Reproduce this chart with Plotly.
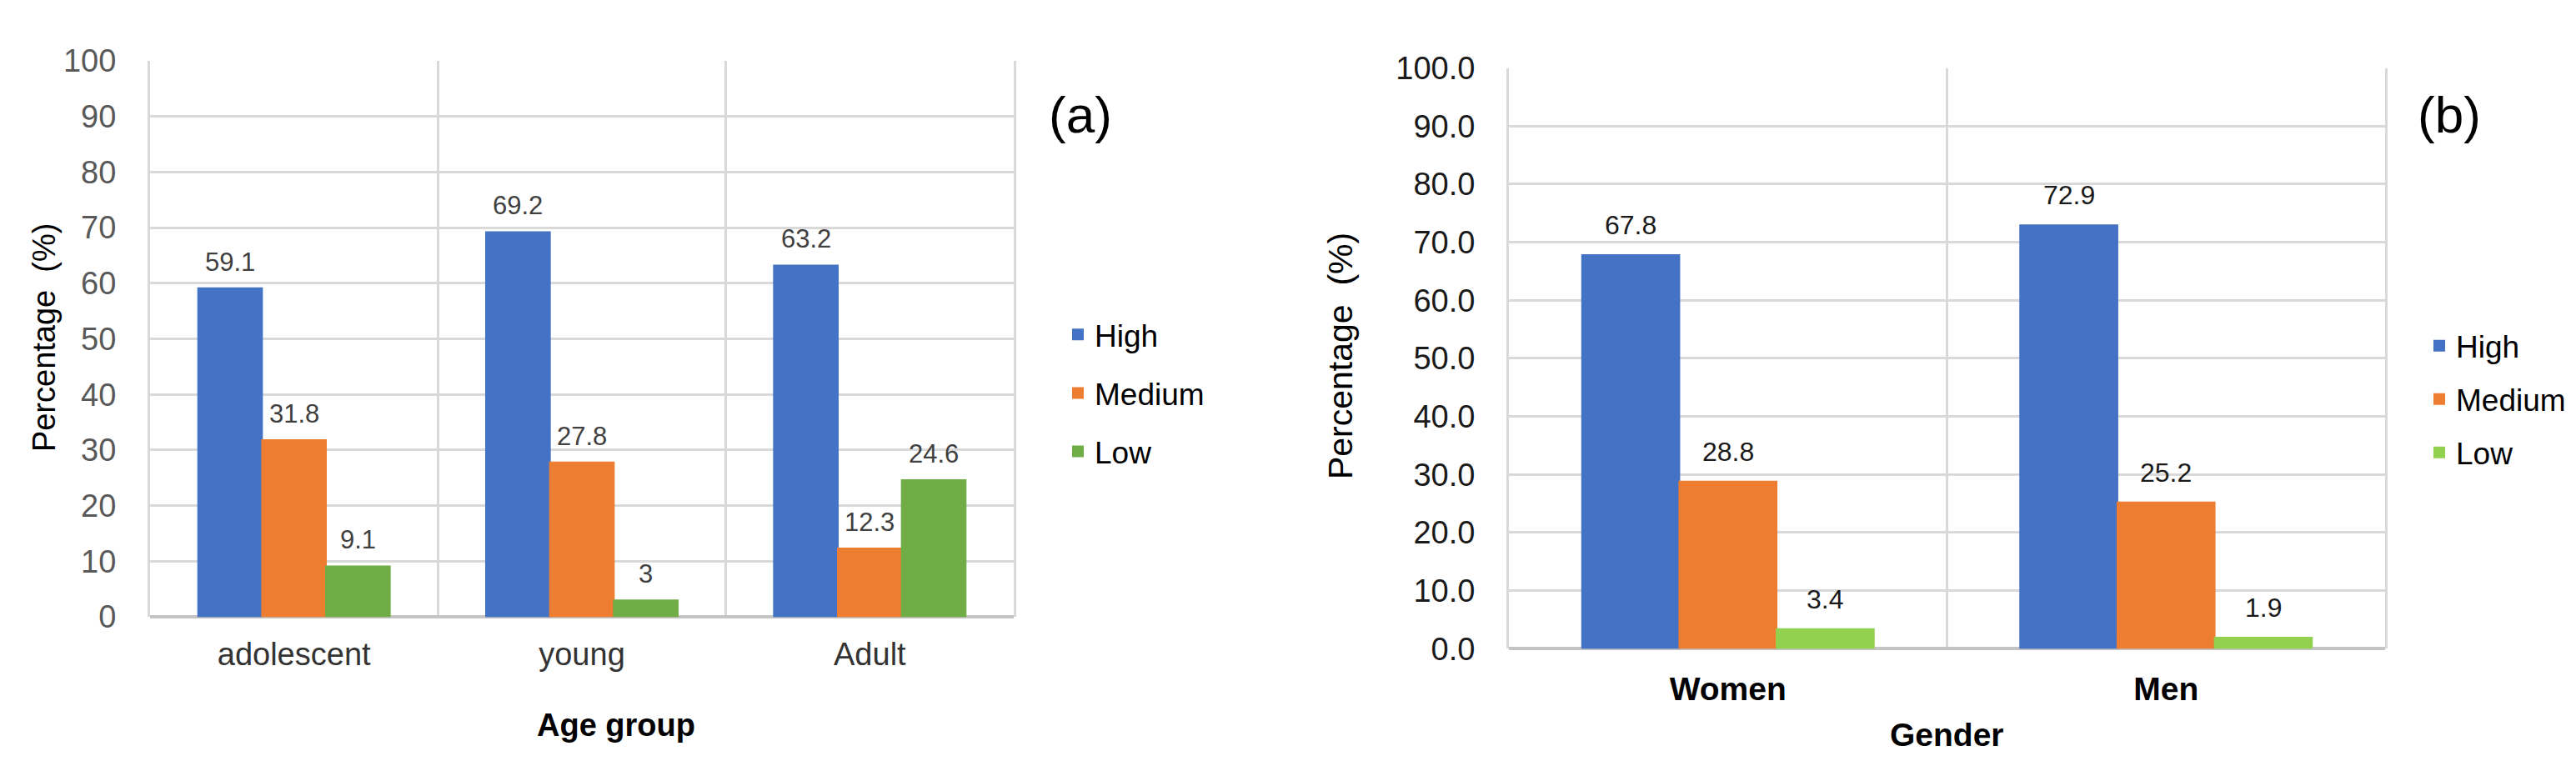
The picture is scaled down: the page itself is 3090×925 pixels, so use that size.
import plotly.graph_objects as go

# panel (a): age groups
age_groups = ['adolescent', 'young', 'Adult']
age_high = [59.1, 69.2, 63.2]
age_medium = [31.8, 27.8, 12.3]
age_low = [9.1, 3, 24.6]

# panel (b): gender
genders = ['Women', 'Men']
gen_high = [67.8, 72.9]
gen_medium = [28.8, 25.2]
gen_low = [3.4, 1.9]

levels = ['High', 'Medium', 'Low']
colors_a = ['#4472C4', '#ED7D31', '#70AD47']
colors_b = ['#4472C4', '#ED7D31', '#92D050']

W, H = 3090, 925
FONT = 'Liberation Sans, Arial, sans-serif'
BARGAP = 0.334


def px_x(p):
    return p / W


def px_y(p):
    return 1 - p / H


fig = go.Figure()

series_a = [age_high, age_medium, age_low]
series_b = [gen_high, gen_medium, gen_low]

for k, name in enumerate(levels):
    fig.add_trace(go.Bar(x=age_groups, y=series_a[k], name=name,
                         marker=dict(color=colors_a[k], line=dict(color=colors_a[k], width=2)),
                         xaxis='x', yaxis='y', legend='legend', legendgroup='a' + name))
for k, name in enumerate(levels):
    fig.add_trace(go.Bar(x=genders, y=series_b[k], name=name,
                         marker=dict(color=colors_b[k], line=dict(color=colors_b[k], width=2)),
                         xaxis='x2', yaxis='y2', legend='legend2', legendgroup='b' + name))

annotations = []
# value labels above bars
grp = (1 - BARGAP) / 3
for k in range(3):
    off = (k - 1) * grp
    for i, v in enumerate(series_a[k]):
        annotations.append(dict(x=i + off, y=v, xref='x', yref='y', text=f'{v:g}', showarrow=False,
                                xanchor='center', yanchor='bottom', yshift=12,
                                font=dict(size=31, color='#404040')))
    for i, v in enumerate(series_b[k]):
        annotations.append(dict(x=i + off, y=v, xref='x2', yref='y2', text=f'{v:.1f}', showarrow=False,
                                xanchor='center', yanchor='bottom', yshift=16,
                                font=dict(size=32, color='#1a1a1a')))

# panel tags and axis titles
annotations += [
    dict(x=px_x(1288), y=px_y(114), xref='paper', yref='paper', text='(a)', showarrow=False,
         xanchor='center', yanchor='middle', font=dict(size=62, color='#000000')),
    dict(x=px_x(2930), y=px_y(114), xref='paper', yref='paper', text='(b)', showarrow=False,
         xanchor='center', yanchor='middle', font=dict(size=62, color='#000000')),
    dict(x=px_x(45), y=px_y(394), xref='paper', yref='paper', text='Percentage  (%)', textangle=-90,
         showarrow=False, xanchor='center', yanchor='middle', font=dict(size=38, color='#000000')),
    dict(x=px_x(1600), y=px_y(417), xref='paper', yref='paper', text='Percentage  (%)', textangle=-90,
         showarrow=False, xanchor='center', yanchor='middle', font=dict(size=41, color='#000000')),
    dict(x=px_x(731), y=px_y(881), xref='paper', yref='paper', text='<b>Age group</b>', showarrow=False,
         xanchor='center', yanchor='middle', font=dict(size=38, color='#000000')),
    dict(x=px_x(2327), y=px_y(893), xref='paper', yref='paper', text='<b>Gender</b>', showarrow=False,
         xanchor='center', yanchor='middle', font=dict(size=39, color='#000000')),
]

grid = '#d9d9d9'
xcommon = dict(type='category', tickson='boundaries', showgrid=True, gridcolor=grid, gridwidth=3,
               ticks='', showline=False, zeroline=False)
ycommon = dict(range=[0, 100], dtick=10, showgrid=True, gridcolor=grid, gridwidth=3,
               zeroline=True, zerolinecolor='#c4c4c4', zerolinewidth=4,
               showline=True, mirror=True, linecolor=grid, linewidth=3, ticks='',
               ticklabelstandoff=30)

fig.update_layout(
    width=W, height=H,
    margin=dict(l=0, r=0, t=0, b=0),
    paper_bgcolor='white', plot_bgcolor='white',
    font=dict(family=FONT, color='#000000'),
    barmode='group', bargap=BARGAP, bargroupgap=0,
    xaxis=dict(xcommon, domain=[px_x(172), px_x(1208)], anchor='y',
               tickfont=dict(size=38, color='#333333'), ticklabelstandoff=19),
    yaxis=dict(ycommon, domain=[px_y(745), px_y(46)], anchor='x',
               tickfont=dict(size=38, color='#595959')),
    xaxis2=dict(xcommon, domain=[px_x(1802), px_x(2853)], anchor='y2',
                tickfont=dict(size=39, color='#000000', weight='bold'), ticklabelstandoff=22),
    yaxis2=dict(ycommon, domain=[px_y(785), px_y(55)], anchor='x2', tickformat='.1f',
                tickfont=dict(size=38, color='#1a1a1a')),
    legend=dict(x=px_x(1265), y=px_y(358), xanchor='left', yanchor='top', font=dict(size=37),
                tracegroupgap=19, bgcolor='rgba(0,0,0,0)'),
    legend2=dict(x=px_x(2898), y=px_y(372), xanchor='left', yanchor='top', font=dict(size=37),
                 tracegroupgap=13, bgcolor='rgba(0,0,0,0)'),
    annotations=annotations,
)

fig.write_html('out.html')
